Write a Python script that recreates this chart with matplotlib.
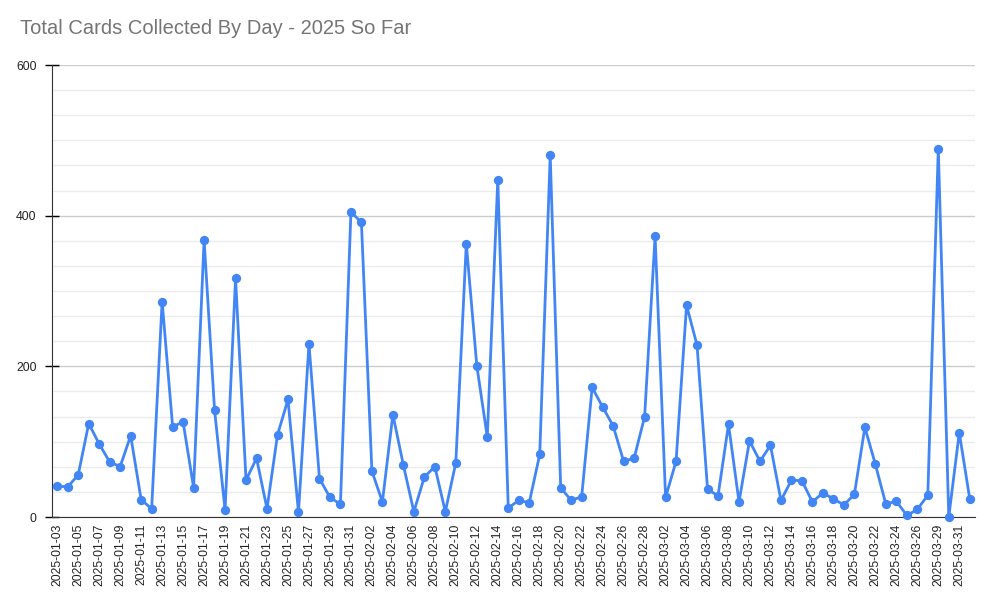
import pandas as pd
import matplotlib.pyplot as plt
from matplotlib.ticker import MultipleLocator

plt.rcParams['font.family'] = ['Liberation Sans', 'DejaVu Sans']

# one day (03-27 or 03-28) has no entry in the sheet
dates = [d.strftime('%Y-%m-%d') for d in pd.date_range('2025-01-03', '2025-04-01')
         if d.strftime('%Y-%m-%d') != '2025-03-28']

cards = [41, 40, 56, 124, 97, 73, 67, 108, 23, 11,
         286, 120, 126, 39, 368, 142, 9, 317, 49, 78,
         11, 109, 156, 6, 230, 51, 26, 17, 405, 391,
         61, 20, 136, 69, 7, 53, 67, 7, 72, 363,
         201, 106, 448, 12, 22, 19, 83, 480, 39, 22,
         27, 172, 146, 121, 74, 78, 133, 373, 26, 74,
         281, 228, 37, 28, 123, 20, 101, 74, 95, 22,
         49, 48, 20, 32, 24, 16, 30, 119, 70, 17,
         21, 2, 10, 29, 489, 0, 112, 24]

blue = '#4285F4'

fig = plt.figure(figsize=(9.93, 6.04), dpi=100)
ax = fig.add_axes([52 / 993, 87 / 604, 923 / 993, 452 / 604])

x = range(len(cards))
ax.plot(x, cards, color=blue, linewidth=2, marker='o', markersize=6.7,
        markeredgewidth=0, zorder=3, clip_on=False)

ax.set_xlim(-0.5, len(cards) - 0.5)
ax.set_ylim(0, 600)

ax.set_xticks(list(range(0, len(dates), 2)))
ax.set_xticklabels(dates[::2], rotation=90, fontsize=8.8, color='#222222')
ax.tick_params(axis='x', length=0, pad=5)

ax.yaxis.set_major_locator(MultipleLocator(200))
ax.yaxis.set_minor_locator(MultipleLocator(200 / 6))
ax.tick_params(axis='y', which='major', direction='inout', length=10, width=1,
               labelsize=8.8, labelcolor='#222222', pad=6)
ax.tick_params(axis='y', which='minor', length=0)

ax.grid(axis='y', which='major', color='#cccccc', linewidth=1, zorder=0)
ax.grid(axis='y', which='minor', color='#ebebeb', linewidth=1, zorder=0)
ax.set_axisbelow(True)

for s in ['top', 'right']:
    ax.spines[s].set_visible(False)
ax.spines['left'].set_color('#333333')
ax.spines['bottom'].set_color('#333333')

fig.text(20 / 993, 1 - 28 / 604, 'Total Cards Collected By Day - 2025 So Far',
         fontsize=14.5, color='#757575', va='center', ha='left')

fig.savefig('out.png', dpi=100)
